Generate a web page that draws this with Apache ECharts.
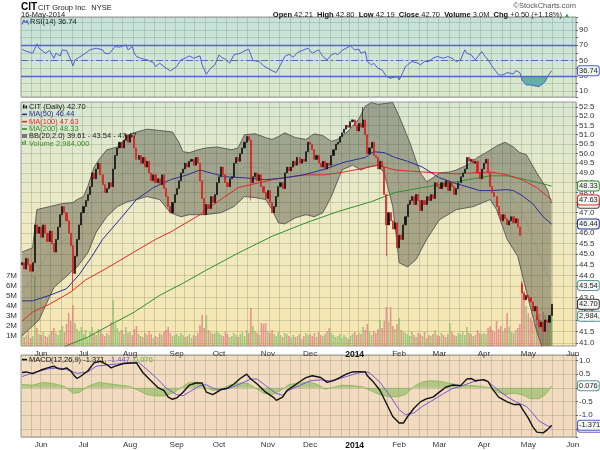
<!DOCTYPE html>
<html><head><meta charset="utf-8">
<script src="https://cdn.jsdelivr.net/npm/echarts@6/dist/echarts.min.js"></script>
<style>html,body{margin:0;padding:0;background:#fff}#c{width:600px;height:450px}</style>
</head><body><div id="c"></div>
<script>
// ---------- DATA ----------
const holidays = ['2013-05-27','2013-07-04','2013-09-02','2013-11-28','2013-12-25','2014-01-01','2014-01-20','2014-02-17','2014-04-18','2014-05-26'];
const axisStart = '2013-05-20', axisEnd = '2014-06-03';
const priceTicks = [41.0,41.5,42.0,42.5,43.0,43.5,44.0,44.5,45.0,45.5,46.0,46.5,47.0,47.5,48.0,48.5,49.0,49.5,50.0,50.5,51.0,51.5,52.0,52.5];
const rsiTicks = [10,30,50,70,90];
const firstOpen = 44.5;
const closes = [
44.6,44.3,44.8,44.5,44.2,44.6,46.4,46.0,46.3,
45.8,46.4,46.0,45.6,46.1,45.5,45.1,45.7,46.3,46.9,47.3,47.0,46.6,46.0,45.4,44.1,44.9,45.7,46.4,47.0,
47.3,47.6,47.9,48.3,49.0,48.7,49.2,49.5,48.9,48.4,48.0,48.2,48.5,48.3,49.2,49.9,50.3,50.6,50.3,50.7,51.0,50.6,
51.0,50.9,50.3,49.7,49.9,49.5,49.8,49.3,49.6,49.0,48.6,48.9,48.5,48.7,48.4,48.9,48.2,47.8,47.3,47.0,47.5,47.9,
48.2,48.6,49.0,49.2,49.5,49.3,49.6,49.7,49.4,49.8,49.5,48.6,47.7,46.9,47.4,47.2,47.8,47.5,47.9,48.5,
48.8,49.3,48.9,48.5,48.3,48.7,48.8,49.5,49.8,49.6,50.0,50.3,50.6,50.9,50.7,48.5,48.8,49.0,48.6,48.9,48.3,48.0,47.7,
48.1,47.5,47.0,47.3,47.8,48.3,48.5,48.2,49.0,49.3,49.1,49.3,49.6,49.4,49.8,49.5,49.7,49.6,50.1,50.6,
50.5,50.2,49.7,49.9,49.5,49.3,49.6,49.2,49.5,49.4,49.9,50.2,50.5,50.6,50.9,51.1,51.3,51.5,51.4,51.7,51.8,
51.5,51.2,51.6,51.4,51.8,51.0,50.0,50.3,50.6,49.9,49.8,49.2,49.6,49.3,47.9,46.4,47.0,46.6,46.2,46.5,45.3,
45.9,45.7,46.4,46.8,47.4,47.6,47.8,47.4,47.9,47.6,47.1,47.6,47.4,47.8,47.6,47.9,47.7,48.5,48.3,
48.2,48.5,48.3,48.6,48.1,48.5,48.3,47.9,48.2,48.5,48.8,49.0,49.2,49.8,49.6,49.7,49.5,49.6,49.0,48.7,49.2,
49.5,49.7,49.0,48.3,48.0,47.8,47.3,46.9,46.6,46.9,46.7,46.4,46.6,46.8,46.5,46.7,46.3,45.9,43.2,42.9,43.1,
43.0,42.8,42.4,42.6,42.0,41.7,41.9,41.5,42.0,41.9,42.2,42.70];
const gapOpens = {236: 43.6};
const wickHighs = {161: 52.5, 236: 43.7};
const wickLows = {24: 43.3, 108: 47.6, 172: 44.9};
const volumesM = [
1.3,0.9,1.1,1.5,0.8,1.0,7.0,1.8,1.2,
1.1,1.4,1.0,0.9,1.2,1.5,1.8,1.3,1.1,1.6,2.0,1.4,2.2,3.3,2.5,4.1,2.3,1.7,1.5,1.9,
1.2,1.6,0.8,1.4,1.9,1.3,1.1,1.7,1.5,1.2,1.0,1.3,1.1,2.4,4.6,2.2,1.8,1.4,1.6,1.2,1.9,1.3,
1.4,1.1,1.7,2.0,1.2,1.0,0.9,1.3,1.1,1.5,1.2,0.8,1.0,0.9,1.3,1.1,1.4,1.6,1.9,1.3,1.0,1.1,
1.2,1.0,1.3,1.1,0.9,1.0,1.2,0.8,1.1,1.0,1.3,2.1,3.1,1.8,3.1,1.6,1.4,1.2,1.3,1.5,
1.3,1.1,1.0,1.4,1.2,0.9,1.0,1.3,1.1,0.9,1.2,1.4,1.0,1.6,1.3,3.8,2.0,1.5,1.3,1.1,2.3,2.2,2.3,
1.5,1.3,1.6,1.2,1.0,1.4,1.1,0.9,1.3,1.2,1.0,0.8,1.1,0.9,1.0,1.2,0.7,1.0,1.3,1.1,
1.2,1.0,1.3,0.9,1.4,1.1,1.0,1.2,1.5,1.8,1.3,1.1,0.9,1.0,1.2,0.8,1.1,0.9,0.7,1.0,1.2,
1.4,1.1,1.3,1.2,1.9,1.6,2.2,1.4,1.1,1.5,1.3,1.7,2.6,1.8,2.5,3.9,2.4,3.9,2.0,1.7,2.2,
2.8,1.6,1.4,1.3,1.2,1.0,1.5,1.1,0.9,1.3,1.2,1.0,1.4,0.8,1.1,1.0,1.2,1.6,1.1,
1.0,1.3,1.1,0.9,1.2,2.3,1.4,1.1,1.0,1.3,1.2,1.5,1.1,1.9,1.3,1.2,1.0,1.1,1.6,1.3,1.2,
1.3,1.2,1.8,2.0,1.6,1.4,2.5,1.7,2.0,1.5,1.8,3.3,1.9,1.4,1.3,1.6,1.8,2.2,6.5,5.5,4.0,
3.3,2.8,2.5,2.2,3.0,3.2,2.6,3.4,3.1,2.4,2.7,2.984];
// [trading-day index, value]
const ma50 = [[0,42.85],[5,42.85],[13,43.1],[21,43.4],[27,44.05],[33,44.9],[38,45.7],[46,46.65],[54,47.65],[62,48.25],[70,48.65],[78,48.9],[84,49.15],[89,49.0],[96,48.8],[105,48.75],[115,48.65],[124,48.75],[133,48.9],[143,49.2],[152,49.55],[162,49.8],[166,50.1],[171,50.05],[176,49.8],[182,49.6],[189,49.3],[197,48.75],[205,48.45],[210,48.3],[216,48.1],[222,48.1],[229,48.15],[232,48.1],[236,47.85],[241,47.45],[246,46.8],[250,46.44]];
const ma100 = [[0,41.95],[5,42.35],[13,42.7],[23,43.25],[30,43.8],[41,44.4],[52,45.05],[63,45.7],[70,46.05],[84,46.9],[89,47.3],[102,48.25],[118,48.65],[133,48.9],[143,48.9],[152,49.05],[162,49.25],[168,49.4],[176,49.15],[189,49.05],[205,48.95],[221,49.05],[229,48.9],[236,48.65],[243,48.25],[250,47.63]];
const ma200 = [[20,40.85],[31,41.25],[42,41.8],[53,42.35],[65,43.1],[76,43.65],[86,44.2],[102,45.05],[118,45.85],[134,46.5],[149,47.05],[165,47.55],[176,48.0],[189,48.25],[205,48.55],[221,48.85],[229,48.85],[236,48.7],[250,48.33]];
const bbUpper = [[0,45.1],[5,45.3],[7,47.15],[13,47.3],[19,47.45],[24,47.5],[26,47.65],[29,47.8],[31,48.3],[34,49.3],[37,49.8],[40,50.2],[45,50.35],[51,51.05],[59,51.3],[67,51.2],[71,51.15],[74,50.6],[76,50.1],[79,50.05],[83,50.2],[87,50.3],[92,50.35],[99,50.2],[102,50.3],[105,51.0],[110,51.05],[115,50.85],[118,50.75],[121,50.9],[124,51.1],[129,50.85],[134,50.75],[138,51.05],[142,50.95],[146,50.65],[149,50.75],[154,51.2],[159,51.85],[162,52.55],[165,52.75],[168,52.65],[175,52.75],[178,52.0],[183,50.6],[188,49.0],[191,48.55],[194,48.75],[197,49.0],[202,49.05],[205,49.15],[210,49.4],[215,49.8],[219,50.05],[224,50.4],[228,50.6],[232,50.35],[235,50.05],[238,49.95],[243,49.0],[248,48.15],[250,47.47]];
const bbLower = [[0,41.3],[8,42.0],[15,43.45],[23,44.15],[26,44.4],[31,45.05],[35,46.05],[40,46.8],[45,47.3],[50,47.55],[54,47.65],[59,47.8],[65,47.65],[70,47.0],[75,46.8],[79,46.9],[86,46.9],[94,47.0],[100,47.3],[105,47.8],[110,47.75],[115,47.65],[118,47.15],[121,46.5],[124,46.45],[129,46.75],[134,46.9],[138,46.8],[142,47.0],[146,47.8],[151,49.15],[156,49.4],[160,49.15],[163,49.3],[168,49.4],[171,49.0],[175,47.3],[177,45.55],[178,44.6],[182,44.4],[186,44.75],[191,45.7],[197,46.65],[205,47.15],[213,47.3],[221,47.65],[224,47.15],[229,45.7],[234,44.9],[236,44.1],[240,42.55],[243,41.5],[250,39.61]];
const bbMid = [[0,43.2],[15,45.4],[25,45.9],[35,47.7],[45,48.8],[55,49.45],[65,49.4],[75,48.55],[85,48.6],[95,48.7],[105,49.3],[115,49.25],[125,48.8],[135,48.85],[145,49.2],[155,50.35],[165,51.05],[172,50.6],[180,47.9],[190,47.1],[200,47.95],[210,48.3],[220,48.85],[228,48.25],[236,47.05],[244,45.05],[250,43.54]];
const rsi = [[0,64.9],[1,63.2],[4,60.5],[5,59.6],[7,71.9],[8,66.2],[9,64],[11,59.6],[13,63.2],[15,53],[16,59.6],[18,56],[19,64],[21,63.2],[23,50.9],[24,43],[25,50.9],[27,54.4],[30,59.6],[32,64],[35,66.2],[38,64],[39,59.6],[41,58.8],[44,68.4],[46,67.5],[49,70.6],[50,64],[52,68.4],[53,59.6],[54,55.3],[56,53],[59,50.9],[62,47.4],[63,42.1],[65,46.5],[67,42.1],[70,36.4],[73,42.1],[75,50.9],[77,53],[79,56.1],[81,53],[84,56.1],[85,44.3],[87,32],[89,39.9],[91,44.3],[93,57.5],[94,54.4],[96,51.8],[98,46.5],[100,57.5],[103,59.6],[106,64],[107,64.9],[109,50],[112,48.7],[114,43],[116,39.9],[118,36.8],[120,34.2],[122,44.3],[124,55.3],[126,58.3],[128,54.4],[130,60.5],[133,64],[135,66.2],[137,59.6],[140,64],[142,55.3],[144,50.9],[146,57.5],[148,59.6],[149,57.5],[151,63.2],[153,66.2],[155,69.3],[157,64],[159,64.9],[160,59.6],[162,61.8],[163,48.7],[165,44.3],[166,46.5],[168,39.9],[170,37.7],[172,28.9],[174,26.8],[177,28.9],[178,24.6],[179,29.8],[181,42.1],[182,44.3],[184,48.7],[187,46.5],[188,44.3],[190,48.7],[192,48.7],[194,53],[196,55.3],[199,53],[201,55.3],[203,53],[205,48.7],[207,50.9],[209,64],[210,59.6],[212,57.5],[214,50.9],[217,61.8],[218,57.5],[220,50.9],[222,42.1],[225,31.1],[227,31.1],[229,34.2],[232,32.5],[233,36.8],[235,34.2],[236,24.6],[238,18],[240,18],[244,15.8],[245,18],[247,22.4],[248,28.9],[250,36.74]];
const macd = [[0,0.56],[2,0.58],[5,0.52],[9,0.65],[12,0.73],[15,0.79],[17,0.70],[19,0.675],[21,0.73],[23,0.615],[25,0.41],[26,0.34],[28,0.44],[31,0.615],[34,0.91],[37,0.97],[40,0.85],[42,0.73],[44,0.79],[48,0.89],[52,0.91],[54,0.91],[57,0.56],[60,0.32],[64,0.02],[67,-0.10],[69,-0.34],[71,-0.42],[73,-0.37],[76,-0.16],[79,0.10],[82,0.175],[85,0.175],[87,-0.16],[90,-0.25],[92,-0.16],[94,-0.06],[97,-0.015],[100,0.14],[103,0.34],[106,0.50],[108,0.32],[111,0.14],[115,-0.16],[119,-0.37],[120,-0.46],[123,-0.34],[125,-0.10],[128,0.05],[131,0.22],[134,0.375],[137,0.44],[141,0.375],[144,0.2],[147,0.26],[150,0.375],[153,0.5],[156,0.58],[159,0.59],[162,0.58],[163,0.44],[166,0.2],[169,-0.1],[172,-0.575],[175,-1.05],[178,-1.29],[180,-1.29],[182,-1.05],[185,-0.75],[188,-0.515],[191,-0.4],[194,-0.34],[197,-0.16],[200,0.02],[203,0.1],[207,0.08],[210,0.32],[212,0.34],[214,0.26],[218,0.3],[220,0.23],[222,-0.04],[225,-0.34],[229,-0.515],[232,-0.61],[235,-0.61],[236,-0.75],[239,-1.11],[241,-1.41],[243,-1.62],[246,-1.65],[248,-1.53],[250,-1.371]];
const signal = [[0,0.41],[5,0.55],[12,0.69],[17,0.73],[21,0.67],[26,0.53],[31,0.58],[35,0.79],[42,0.85],[52,0.93],[55,0.93],[59,0.67],[64,0.32],[68,-0.01],[73,-0.25],[76,-0.29],[79,-0.15],[84,0.08],[87,0.11],[90,-0.01],[93,-0.09],[98,-0.01],[103,0.14],[108,0.32],[111,0.32],[115,0.08],[120,-0.21],[123,-0.27],[126,-0.09],[131,0.08],[136,0.26],[141,0.29],[145,0.26],[148,0.29],[153,0.41],[158,0.53],[162,0.59],[164,0.55],[169,0.20],[174,-0.33],[178,-0.80],[181,-0.98],[185,-0.92],[189,-0.68],[194,-0.45],[199,-0.21],[203,-0.035],[208,0.08],[213,0.22],[217,0.29],[220,0.22],[224,-0.035],[229,-0.33],[233,-0.51],[238,-0.68],[241,-0.92],[244,-1.21],[248,-1.39],[250,-1.447]];
const histogram = [[0,0.12],[5,0.1],[10,0.2],[15,0.15],[20,0.05],[24,-0.2],[27,-0.18],[31,0.05],[36,0.2],[41,0.15],[46,0.1],[51,0.05],[55,-0.1],[59,-0.25],[63,-0.3],[67,-0.3],[71,-0.2],[75,0.0],[79,0.2],[83,0.2],[87,0.0],[90,-0.1],[94,-0.05],[98,0.1],[103,0.18],[107,0.15],[110,0.0],[114,-0.2],[118,-0.25],[122,-0.1],[126,0.12],[131,0.18],[136,0.22],[140,0.1],[143,-0.05],[147,0.02],[151,0.1],[156,0.08],[161,0.03],[165,-0.12],[169,-0.25],[173,-0.33],[177,-0.33],[181,-0.25],[185,0.05],[189,0.22],[193,0.26],[197,0.24],[201,0.18],[205,0.12],[209,0.08],[213,0.08],[217,0.05],[221,0.0],[224,-0.15],[228,-0.25],[232,-0.2],[236,-0.25],[240,-0.4],[244,-0.4],[247,-0.25],[249,-0.05],[250,0.076]];
const monthNames = ['Jan','Feb','Mar','Apr','May','Jun','Jul','Aug','Sep','Oct','Nov','Dec'];

// ---------- BUILD ----------
const dates = [];
(function(){
  let t = Date.parse(axisStart + 'T00:00:00Z'); const end = Date.parse(axisEnd + 'T00:00:00Z');
  while (t <= end) { const d = new Date(t); const s = d.toISOString().slice(0,10); const w = d.getUTCDay();
    if (w !== 0 && w !== 6 && holidays.indexOf(s) < 0) dates.push(s); t += 86400000; }
})();
const dow = s => new Date(s + 'T00:00:00Z').getUTCDay();
const isMonthStart = i => i > 0 && dates[i].slice(5,7) !== dates[i-1].slice(5,7);
const isWeekStart = i => i > 0 && dow(dates[i]) < dow(dates[i-1]);

const candles = closes.map((c, i) => {
  const o = gapOpens[i] != null ? gapOpens[i] : (i === 0 ? firstOpen : closes[i-1]);
  let lo = Math.min(o, c), hi = Math.max(o, c);
  if (wickHighs[i] != null) hi = wickHighs[i];
  if (wickLows[i] != null) lo = wickLows[i];
  return [o, c, lo, hi];
});
const volData = volumesM.map((v, i) => ({ value: v * 1e6,
  itemStyle: { color: (i > 0 && closes[i] < closes[i-1]) ? 'rgba(226,120,128,0.75)' : 'rgba(140,190,110,0.8)' } }));

const FONT = 'Liberation Sans, Arial, sans-serif';
const gridLine = { color: 'rgba(110,125,100,0.28)', width: 1 };
function xAx(gi, labels) {
  return { type: 'category', gridIndex: gi, data: dates, boundaryGap: true,
    axisLine: { show: false }, axisTick: { show: false },
    axisLabel: { show: labels, interval: (i) => isMonthStart(i), margin: 4, fontSize: 8, color: '#333', fontFamily: FONT,
      formatter: (v) => { const m = +v.slice(5,7); return m === 1 ? '{b|' + v.slice(0,4) + '}' : monthNames[m-1]; },
      rich: { b: { fontWeight: 'bold', fontSize: 8.5, color: '#111', fontFamily: FONT } } },
    splitLine: { show: true, interval: (i) => isWeekStart(i), lineStyle: gridLine } };
}
const near = (v, step) => Math.abs(v / step - Math.round(v / step)) < 1e-6;

const option = {
  animation: false,
  backgroundColor: '#fff',
  textStyle: { fontFamily: FONT },
  grid: [
    { left: 21, right: 24, top: 17, height: 80, show: true, borderColor: '#999', borderWidth: 1,
      backgroundColor: { type: 'linear', x: 0, y: 0, x2: 0, y2: 1, colorStops: [{ offset: 0, color: '#c3e2dc' }, { offset: 1, color: '#dce9cb' }] } },
    { left: 21, right: 24, top: 102, height: 244, show: true, borderColor: '#999', borderWidth: 1,
      backgroundColor: { type: 'linear', x: 0, y: 0, x2: 0, y2: 1, colorStops: [{ offset: 0, color: '#d8e7d2' }, { offset: 0.5, color: '#efeac3' }, { offset: 1, color: '#f7e6b0' }] } },
    { left: 21, right: 24, top: 355, height: 85, show: true, borderColor: '#999', borderWidth: 1,
      backgroundColor: { type: 'linear', x: 0, y: 0, x2: 0, y2: 1, colorStops: [{ offset: 0, color: '#f2dcc0' }, { offset: 1, color: '#f3d9bd' }] } }
  ],
  xAxis: [xAx(0, false), xAx(1, true), xAx(2, true)],
  yAxis: [
    { type: 'value', gridIndex: 0, position: 'right', min: 2.2, max: 107.1, minInterval: 10, maxInterval: 10,
      axisLine: { show: false }, axisTick: { show: true, length: 2, lineStyle: { color: '#666' } },
      axisLabel: { margin: 3, fontSize: 8, color: '#333', formatter: v => (rsiTicks.indexOf(Math.round(v)) >= 0 && near(v,1)) ? String(Math.round(v)) : '' },
      splitLine: { show: true, lineStyle: gridLine } },
    { type: 'log', logBase: 10, gridIndex: 1, position: 'right', min: 40.87, max: 52.78,
      axisLine: { show: false },
      axisTick: { show: true, length: 2, customValues: priceTicks, lineStyle: { color: '#666' } },
      axisLabel: { margin: 3, fontSize: 8, color: '#333', customValues: priceTicks, formatter: v => (+v).toFixed(1) },
      splitLine: { show: true, lineStyle: gridLine } },
    { type: 'value', gridIndex: 1, position: 'left', min: 0, max: 24.4e6, minInterval: 1e6, maxInterval: 1e6,
      axisLine: { show: false }, axisTick: { show: false },
      axisLabel: { margin: 4, fontSize: 8, color: '#333', formatter: v => (v >= 1e6 && v <= 7e6 && near(v,1e6)) ? (Math.round(v/1e6) + 'M') : '' },
      splitLine: { show: false } },
    { type: 'value', gridIndex: 2, position: 'right', min: -1.8, max: 1.2, minInterval: 0.5, maxInterval: 0.5,
      axisLine: { show: false }, axisTick: { show: true, length: 2, lineStyle: { color: '#666' } },
      axisLabel: { margin: 3, fontSize: 8, color: '#333', formatter: v => (near(v,0.5) && v > -1.6 && v < 1.1) ? v.toFixed(1) : '' },
      splitLine: { show: true, lineStyle: gridLine } }
  ],
  visualMap: [{ type: 'piecewise', show: false, seriesIndex: 1, dimension: 1,
    pieces: [{ lt: 30, color: '#56aaa0' }, { gt: 70, color: '#56aaa0' }], outOfRange: { color: 'rgba(0,0,0,0)' } }],
  series: [
    { name: 'RSI', type: 'line', xAxisIndex: 0, yAxisIndex: 0, data: rsi, symbol: 'none', z: 4,
      lineStyle: { color: '#4c5ed6', width: 1 },
      markLine: { silent: true, symbol: 'none', label: { show: false },
        data: [ { yAxis: 70, lineStyle: { color: '#5566c8', width: 1.3, type: 'solid' } },
                { yAxis: 30, lineStyle: { color: '#5566c8', width: 1.3, type: 'solid' } },
                { yAxis: 50, lineStyle: { color: '#5566c8', width: 1, type: [7, 3, 2, 3] } } ] } },
    { name: 'RSIfill', type: 'line', xAxisIndex: 0, yAxisIndex: 0, data: rsi, symbol: 'none', z: 3,
      lineStyle: { width: 0 }, areaStyle: { origin: 30, opacity: 0.9 } },
    { name: 'Volume', type: 'bar', xAxisIndex: 1, yAxisIndex: 2, data: volData, barWidth: 1.6, z: 1 },
    { name: 'BBband', type: 'custom', xAxisIndex: 1, yAxisIndex: 1, data: [[0, bbUpper[0][1]]], clip: true, z: 2,
      renderItem: (params, api) => {
        const pts = bbUpper.map(p => api.coord([p[0], p[1]])).concat(bbLower.slice().reverse().map(p => api.coord([p[0], p[1]])));
        return { type: 'polygon', shape: { points: pts }, style: { fill: 'rgba(70,70,55,0.42)', stroke: 'none' } };
      } },
    { name: 'BBup', type: 'line', xAxisIndex: 1, yAxisIndex: 1, data: bbUpper, symbol: 'none', z: 3, lineStyle: { color: '#555', width: 0.9 } },
    { name: 'BBlow', type: 'line', xAxisIndex: 1, yAxisIndex: 1, data: bbLower, symbol: 'none', z: 3, lineStyle: { color: '#555', width: 0.9 } },
    { name: 'BBmid', type: 'line', xAxisIndex: 1, yAxisIndex: 1, data: bbMid, symbol: 'none', z: 3, lineStyle: { color: '#888', width: 0.8, type: [1.5, 1.5] } },
    { name: 'MA200', type: 'line', xAxisIndex: 1, yAxisIndex: 1, data: ma200, symbol: 'none', z: 4, lineStyle: { color: '#2f8f2f', width: 1 } },
    { name: 'MA100', type: 'line', xAxisIndex: 1, yAxisIndex: 1, data: ma100, symbol: 'none', z: 4, lineStyle: { color: '#e02a2a', width: 1 } },
    { name: 'MA50', type: 'line', xAxisIndex: 1, yAxisIndex: 1, data: ma50, symbol: 'none', z: 4, lineStyle: { color: '#23309a', width: 1 } },
    { name: 'CIT', type: 'candlestick', xAxisIndex: 1, yAxisIndex: 1, data: candles, barWidth: 1.6, z: 5,
      itemStyle: { color: '#111', color0: '#dd1c1c', borderColor: '#111', borderColor0: '#dd1c1c', borderWidth: 0.7 } },
    { name: 'Hist', type: 'line', xAxisIndex: 2, yAxisIndex: 3, data: histogram, symbol: 'none', z: 2,
      lineStyle: { color: '#6aae40', width: 0.6 }, areaStyle: { color: 'rgba(106,174,64,0.65)' } },
    { name: 'Signal', type: 'line', xAxisIndex: 2, yAxisIndex: 3, data: signal, symbol: 'none', z: 3, clip: false, lineStyle: { color: '#7a55d8', width: 1 } },
    { name: 'MACD', type: 'line', xAxisIndex: 2, yAxisIndex: 3, data: macd, symbol: 'none', z: 4, clip: false, lineStyle: { color: '#111', width: 1.4 } }
  ]
};
const chart = echarts.init(document.getElementById('c'), null, { width: 600, height: 450 });
chart.setOption(option);

// ---------- TEXT / LABEL BOXES ----------
const T = (x, y, text, opts) => ({ type: 'text', x, y, z: 50, style: Object.assign({ text, fontSize: 7.5, fontFamily: FONT, fill: '#222', verticalAlign: 'middle' }, opts || {}) });
const icon = (x, y, color) => ({ type: 'rect', z: 50, shape: { x, y: y - 0.75, width: 5, height: 1.6 }, style: { fill: color } });
function box(yAxisIndex, value, text, border, z) {
  const y = chart.convertToPixel({ yAxisIndex }, value);
  return { type: 'text', x: 578, y, z: z || 60, style: { text, fontSize: 7.5, fontFamily: FONT, fill: '#222', verticalAlign: 'middle',
    backgroundColor: '#f4f7f4', borderColor: border, borderWidth: 1, borderRadius: 2, padding: [1, 1, 0, 1] } };
}
const els = [
  T(21, 7, 'CIT', { fontSize: 10, fontWeight: 'bold', fill: '#000' }),
  T(38, 7.5, 'CIT Group Inc.  NYSE', { fontSize: 7.5 }),
  T(21, 15, '16-May-2014', { fontSize: 7.5 }),
  T(576, 5.5, '©StockCharts.com', { fontSize: 7.5, fill: '#555', align: 'right' }),
  { type: 'text', x: 570, y: 15, z: 50, style: { align: 'right', verticalAlign: 'middle', fontSize: 7.5, fontFamily: FONT, fill: '#222',
    text: '{b|Open} 42.21  {b|High} 42.80  {b|Low} 42.19  {b|Close} 42.70  {b|Volume} 3.0M  {b|Chg} +0.50 (+1.18%) {g|▲}',
    rich: { b: { fontWeight: 'bold', fontSize: 7.5, fontFamily: FONT, fill: '#111' }, g: { fill: '#2f9a2f', fontSize: 6 } } } },
  { type: 'polyline', z: 50, shape: { points: [[22,24.5],[24,20],[25.5,23],[27,20.5],[28.5,24.5]] }, style: { stroke: '#3346c8', lineWidth: 1, fill: 'none' } },
  T(30, 22, 'RSI(14) 36.74', { fontSize: 7.5 }),
  { type: 'rect', z: 50, shape: { x: 23, y: 104.5, width: 1.5, height: 4 }, style: { fill: '#111' } },
  { type: 'rect', z: 50, shape: { x: 25.5, y: 105.5, width: 1.5, height: 3 }, style: { fill: '#111' } },
  T(29, 107, 'CIT (Daily) 42.70'),
  icon(22, 114.3, '#23309a'), T(29, 114.3, 'MA(50) 46.44', { fill: '#23309a' }),
  icon(22, 121.6, '#e02a2a'), T(29, 121.6, 'MA(100) 47.63', { fill: '#e02a2a' }),
  icon(22, 128.9, '#2f8f2f'), T(29, 128.9, 'MA(200) 48.33', { fill: '#2f8f2f' }),
  { type: 'rect', z: 50, shape: { x: 22, y: 134, width: 5, height: 4 }, style: { fill: '#777' } },
  T(29, 136.2, 'BB(20,2.0) 39.61 - 43.54 - 47.47'),
  { type: 'rect', z: 50, shape: { x: 22, y: 141.5, width: 1.5, height: 3.5 }, style: { fill: '#4c9a3c' } },
  { type: 'rect', z: 50, shape: { x: 24.5, y: 140.5, width: 1.5, height: 4.5 }, style: { fill: '#4c9a3c' } },
  T(29, 143.5, 'Volume 2,984,000', { fill: '#3d8f2f' }),
  { type: 'rect', z: 50, shape: { x: 22, y: 358.8, width: 5, height: 1.6 }, style: { fill: '#111' } },
  { type: 'text', x: 29, y: 359.6, z: 50, style: { verticalAlign: 'middle', fontSize: 7.5, fontFamily: FONT, fill: '#111',
    text: 'MACD(12,26,9) -1.371, {p|-1.447}  {g|0.076}', rich: { p: { fill: '#6a4fd0', fontSize: 7.5, fontFamily: FONT }, g: { fill: '#6aae40', fontSize: 7.5, fontFamily: FONT } } } },
  box(0, 36.74, '36.74', '#4c5ed6'),
  box(1, 48.33, '48.33', '#2f8f2f'),
  box(1, 47.47, '47.47', '#444', 58),
  box(1, 47.63, '47.63', '#e02a2a'),
  box(1, 46.44, '46.44', '#23309a'),
  box(1, 43.54, '43.54', '#5b9a9a'),
  box(1, 42.70, '42.70', '#333'),
  box(2, 2.984e6, '2,984,000', '#5b9a9a'),
  box(3, 0.076, '0.076', '#5b9a9a'),
  box(3, -1.447, '-1.447', '#7a55d8', 58),
  box(3, -1.371, '-1.371', '#4c5ed6')
];
chart.setOption({ graphic: { elements: els } });
</script></body></html>
